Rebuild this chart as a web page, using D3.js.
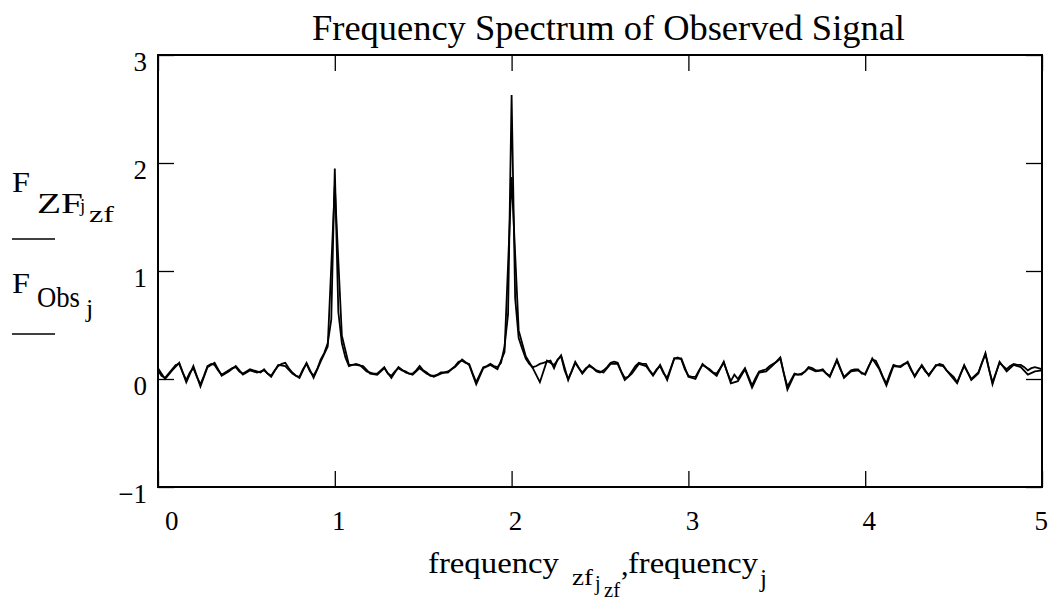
<!DOCTYPE html>
<html>
<head>
<meta charset="utf-8">
<script src="https://cdn.jsdelivr.net/npm/d3@7"></script>
<style>
  html, body { margin: 0; padding: 0; background: #fff; }
  text { font-family: "Liberation Serif", "Times New Roman", serif; fill: #000; }
</style>
</head>
<body>
<script>
// ---- data ----
const titleText = "Frequency Spectrum of Observed Signal";
const xTickValues = [0, 1, 2, 3, 4, 5];
const yTickValues = [-1, 0, 1, 2, 3];
const stepObs = 0.04;   // frequency spacing of observed spectrum
const stepZF = 0.02;    // frequency spacing of zero-filled spectrum

const F_Obs = [
  0.10, 0.00, 0.08, 0.15, -0.03, 0.12, -0.07, 0.11, 0.15, 0.03,
  0.07, 0.12, 0.04, 0.08, 0.06, 0.08, 0.02, 0.13, 0.12, 0.05,
  0.01, 0.15, 0.01, 0.16, 0.30, 1.79, 0.40, 0.13, 0.13, 0.12,
  0.05, 0.04, 0.10, 0.01, 0.11, 0.06, 0.04, 0.10, 0.05, 0.02,
  0.05, 0.07, 0.11, 0.18, 0.13, -0.05, 0.10, 0.13, 0.09, 0.25,
  1.87, 0.45, 0.21, 0.10, -0.03, 0.17, 0.13, 0.22, -0.01, 0.16,
  0.05, 0.13, 0.08, 0.06, 0.14, 0.14, -0.01, 0.05, 0.14, 0.12,
  0.03, 0.13, -0.01, 0.19, 0.19, 0.02, 0.00, 0.14, 0.08, 0.03,
  0.16, -0.04, -0.02, 0.09, -0.08, 0.06, 0.07, 0.13, 0.20, -0.10,
  0.04, 0.04, 0.10, 0.07, 0.08, 0.02, 0.18, 0.01, 0.07, 0.08,
  0.04, 0.19, 0.09, -0.06, 0.12, 0.11, 0.16, 0.02, 0.13, 0.03,
  0.13, 0.12, 0.04, -0.04, 0.13, -0.01, 0.05, 0.24, -0.05, 0.16,
  0.07, 0.13, 0.11, 0.04, 0.07, 0.08
];

const F_ZF = [
  0.08, 0.03, 0.01, 0.05, 0.09, 0.13, 0.14, 0.06, -0.01, 0.06,
  0.10, 0.02, -0.05, 0.03, 0.12, 0.14, 0.13, 0.08, 0.04, 0.06,
  0.08, 0.10, 0.11, 0.07, 0.05, 0.07, 0.09, 0.08, 0.07, 0.06,
  0.09, 0.05, 0.03, 0.08, 0.12, 0.14, 0.15, 0.10, 0.06, 0.03,
  0.02, 0.09, 0.14, 0.07, 0.03, 0.09, 0.18, 0.24, 0.33, 0.55,
  1.95, 0.62, 0.33, 0.20, 0.12, 0.13, 0.14, 0.13, 0.10, 0.07,
  0.06, 0.05, 0.05, 0.08, 0.11, 0.05, 0.03, 0.07, 0.10, 0.08,
  0.07, 0.05, 0.05, 0.08, 0.12, 0.08, 0.06, 0.03, 0.03, 0.04,
  0.06, 0.06, 0.06, 0.09, 0.12, 0.16, 0.17, 0.15, 0.14, 0.05,
  -0.03, 0.04, 0.11, 0.12, 0.14, 0.12, 0.11, 0.15, 0.30, 0.60,
  2.63, 0.75, 0.38, 0.28, 0.19, 0.14, 0.11, 0.12, 0.14, 0.15,
  0.16, 0.17, 0.10, 0.18, 0.21, 0.08, 0.00, 0.07, 0.15, 0.10,
  0.06, 0.10, 0.12, 0.10, 0.07, 0.06, 0.08, 0.11, 0.15, 0.16,
  0.15, 0.07, 0.01, 0.02, 0.07, 0.12, 0.15, 0.14, 0.14, 0.08,
  0.04, 0.09, 0.12, 0.05, 0.01, 0.10, 0.19, 0.20, 0.18, 0.09,
  0.03, 0.02, 0.02, 0.08, 0.13, 0.11, 0.09, 0.06, 0.05, 0.10,
  0.15, 0.06, -0.02, 0.04, 0.00, 0.05, 0.10, 0.02, -0.06, 0.01,
  0.07, 0.08, 0.09, 0.12, 0.14, 0.16, 0.19, 0.05, -0.07, -0.01,
  0.05, 0.04, 0.05, 0.07, 0.11, 0.10, 0.08, 0.08, 0.09, 0.05,
  0.03, 0.10, 0.17, 0.09, 0.02, 0.05, 0.08, 0.09, 0.09, 0.05,
  0.05, 0.12, 0.18, 0.17, 0.10, 0.02, -0.04, 0.05, 0.13, 0.12,
  0.12, 0.14, 0.15, 0.08, 0.03, 0.08, 0.12, 0.07, 0.04, 0.08,
  0.12, 0.14, 0.13, 0.08, 0.05, 0.02, -0.03, 0.05, 0.12, 0.06,
  0.00, 0.03, 0.06, 0.15, 0.23, 0.09, -0.03, 0.06, 0.15, 0.12,
  0.09, 0.12, 0.14, 0.13, 0.13, 0.11, 0.08, 0.10, 0.11, 0.10,
  0.09
];

// ---- layout ----
const W = 1048, H = 603;
const plot = { left: 158, right: 1042, top: 55, bottom: 487 };
const tickLen = 16;
const FONT = "Liberation Serif, Times New Roman, serif";

const svg = d3.select("body").append("svg")
  .attr("width", W).attr("height", H);

const x = d3.scaleLinear().domain([0, 5]).range([plot.left, plot.right]);
const y = d3.scaleLinear().domain([-1, 3]).range([plot.bottom, plot.top]);

const obsData = F_Obs.map((v, i) => ({ f: i * stepObs, v }));
const zfData = F_ZF.map((v, i) => ({ f: i * stepZF, v }));

svg.append("clipPath").attr("id", "clip").append("rect")
  .attr("x", plot.left).attr("y", plot.top)
  .attr("width", plot.right - plot.left).attr("height", plot.bottom - plot.top);

const line = d3.line().x(d => x(d.f)).y(d => y(d.v));

const g = svg.append("g").attr("clip-path", "url(#clip)");
g.append("path").datum(zfData).attr("d", line)
  .attr("fill", "none").attr("stroke", "#000").attr("stroke-width", 1.8);
g.append("path").datum(obsData).attr("d", line)
  .attr("fill", "none").attr("stroke", "#000").attr("stroke-width", 1.8);

function styleAxis(sel) {
  sel.select(".domain").remove();
  sel.selectAll(".tick line").attr("stroke", "#000").attr("stroke-width", 1.3);
  sel.selectAll(".tick text").remove();
}
svg.append("g").attr("transform", `translate(0,${plot.bottom})`)
  .call(d3.axisBottom(x).tickValues(xTickValues).tickSize(-tickLen)).call(styleAxis);
svg.append("g").attr("transform", `translate(0,${plot.top})`)
  .call(d3.axisTop(x).tickValues(xTickValues).tickSize(-tickLen)).call(styleAxis);
svg.append("g").attr("transform", `translate(${plot.left},0)`)
  .call(d3.axisLeft(y).tickValues(yTickValues).tickSize(-tickLen)).call(styleAxis);
svg.append("g").attr("transform", `translate(${plot.right},0)`)
  .call(d3.axisRight(y).tickValues(yTickValues).tickSize(-tickLen)).call(styleAxis);

svg.append("rect")
  .attr("x", plot.left).attr("y", plot.top)
  .attr("width", plot.right - plot.left).attr("height", plot.bottom - plot.top)
  .attr("fill", "none").attr("stroke", "#000").attr("stroke-width", 2);

function addText(parent, txt, xx, yy, size, len) {
  const t = parent.append("text").attr("x", xx).attr("y", yy)
    .attr("font-family", FONT).attr("font-size", size).text(txt);
  if (len) t.attr("textLength", len).attr("lengthAdjust", "spacingAndGlyphs");
  return t;
}

// y tick labels
const tickFont = 27;
svg.append("g").selectAll("text").data(yTickValues).join("text")
  .attr("font-family", FONT)
  .attr("x", plot.left - 11)
  .attr("y", d => y(d) + 16)
  .attr("text-anchor", "end")
  .attr("font-size", tickFont)
  .text(d => d < 0 ? "\u2212" + Math.abs(d) : String(d));

// x tick labels
svg.append("g").selectAll("text").data(xTickValues).join("text")
  .attr("font-family", FONT)
  .attr("x", d => d === 0 ? x(d) + 7 : d === 5 ? x(d) + 6 : x(d) + 4)
  .attr("y", plot.bottom + 43)
  .attr("text-anchor", d => d === 0 ? "start" : d === 5 ? "end" : "middle")
  .attr("font-size", tickFont)
  .text(d => String(d));

// title
addText(svg, titleText, 312, 40, 35, 593);

// y-axis label (stacked)
const yl = svg.append("g");
addText(yl, "F", 12, 192, 29, 18);
addText(yl, "ZF", 37, 213, 29, 46);
addText(yl, "j", 80, 212, 19);
addText(yl, "zf", 89, 222, 24, 25);
yl.append("line").attr("x1", 12).attr("x2", 55).attr("y1", 239).attr("y2", 239)
  .attr("stroke", "#000").attr("stroke-width", 1.5);
addText(yl, "F", 12, 293, 29, 18);
addText(yl, "Obs", 37, 307, 29, 43);
addText(yl, "j", 86, 317, 26);
yl.append("line").attr("x1", 12).attr("x2", 55).attr("y1", 334).attr("y2", 334)
  .attr("stroke", "#000").attr("stroke-width", 1.5);

// x-axis label
const xl = svg.append("g");
addText(xl, "frequency", 428, 573, 30, 131);
addText(xl, "zf", 572, 585, 24, 21);
addText(xl, "j", 595, 590, 20);
addText(xl, "zf", 604, 597, 20, 16);
addText(xl, ",", 621, 575, 30);
addText(xl, "frequency", 628, 573, 30, 130);
addText(xl, "j", 760, 587, 25);
</script>
</body>
</html>
